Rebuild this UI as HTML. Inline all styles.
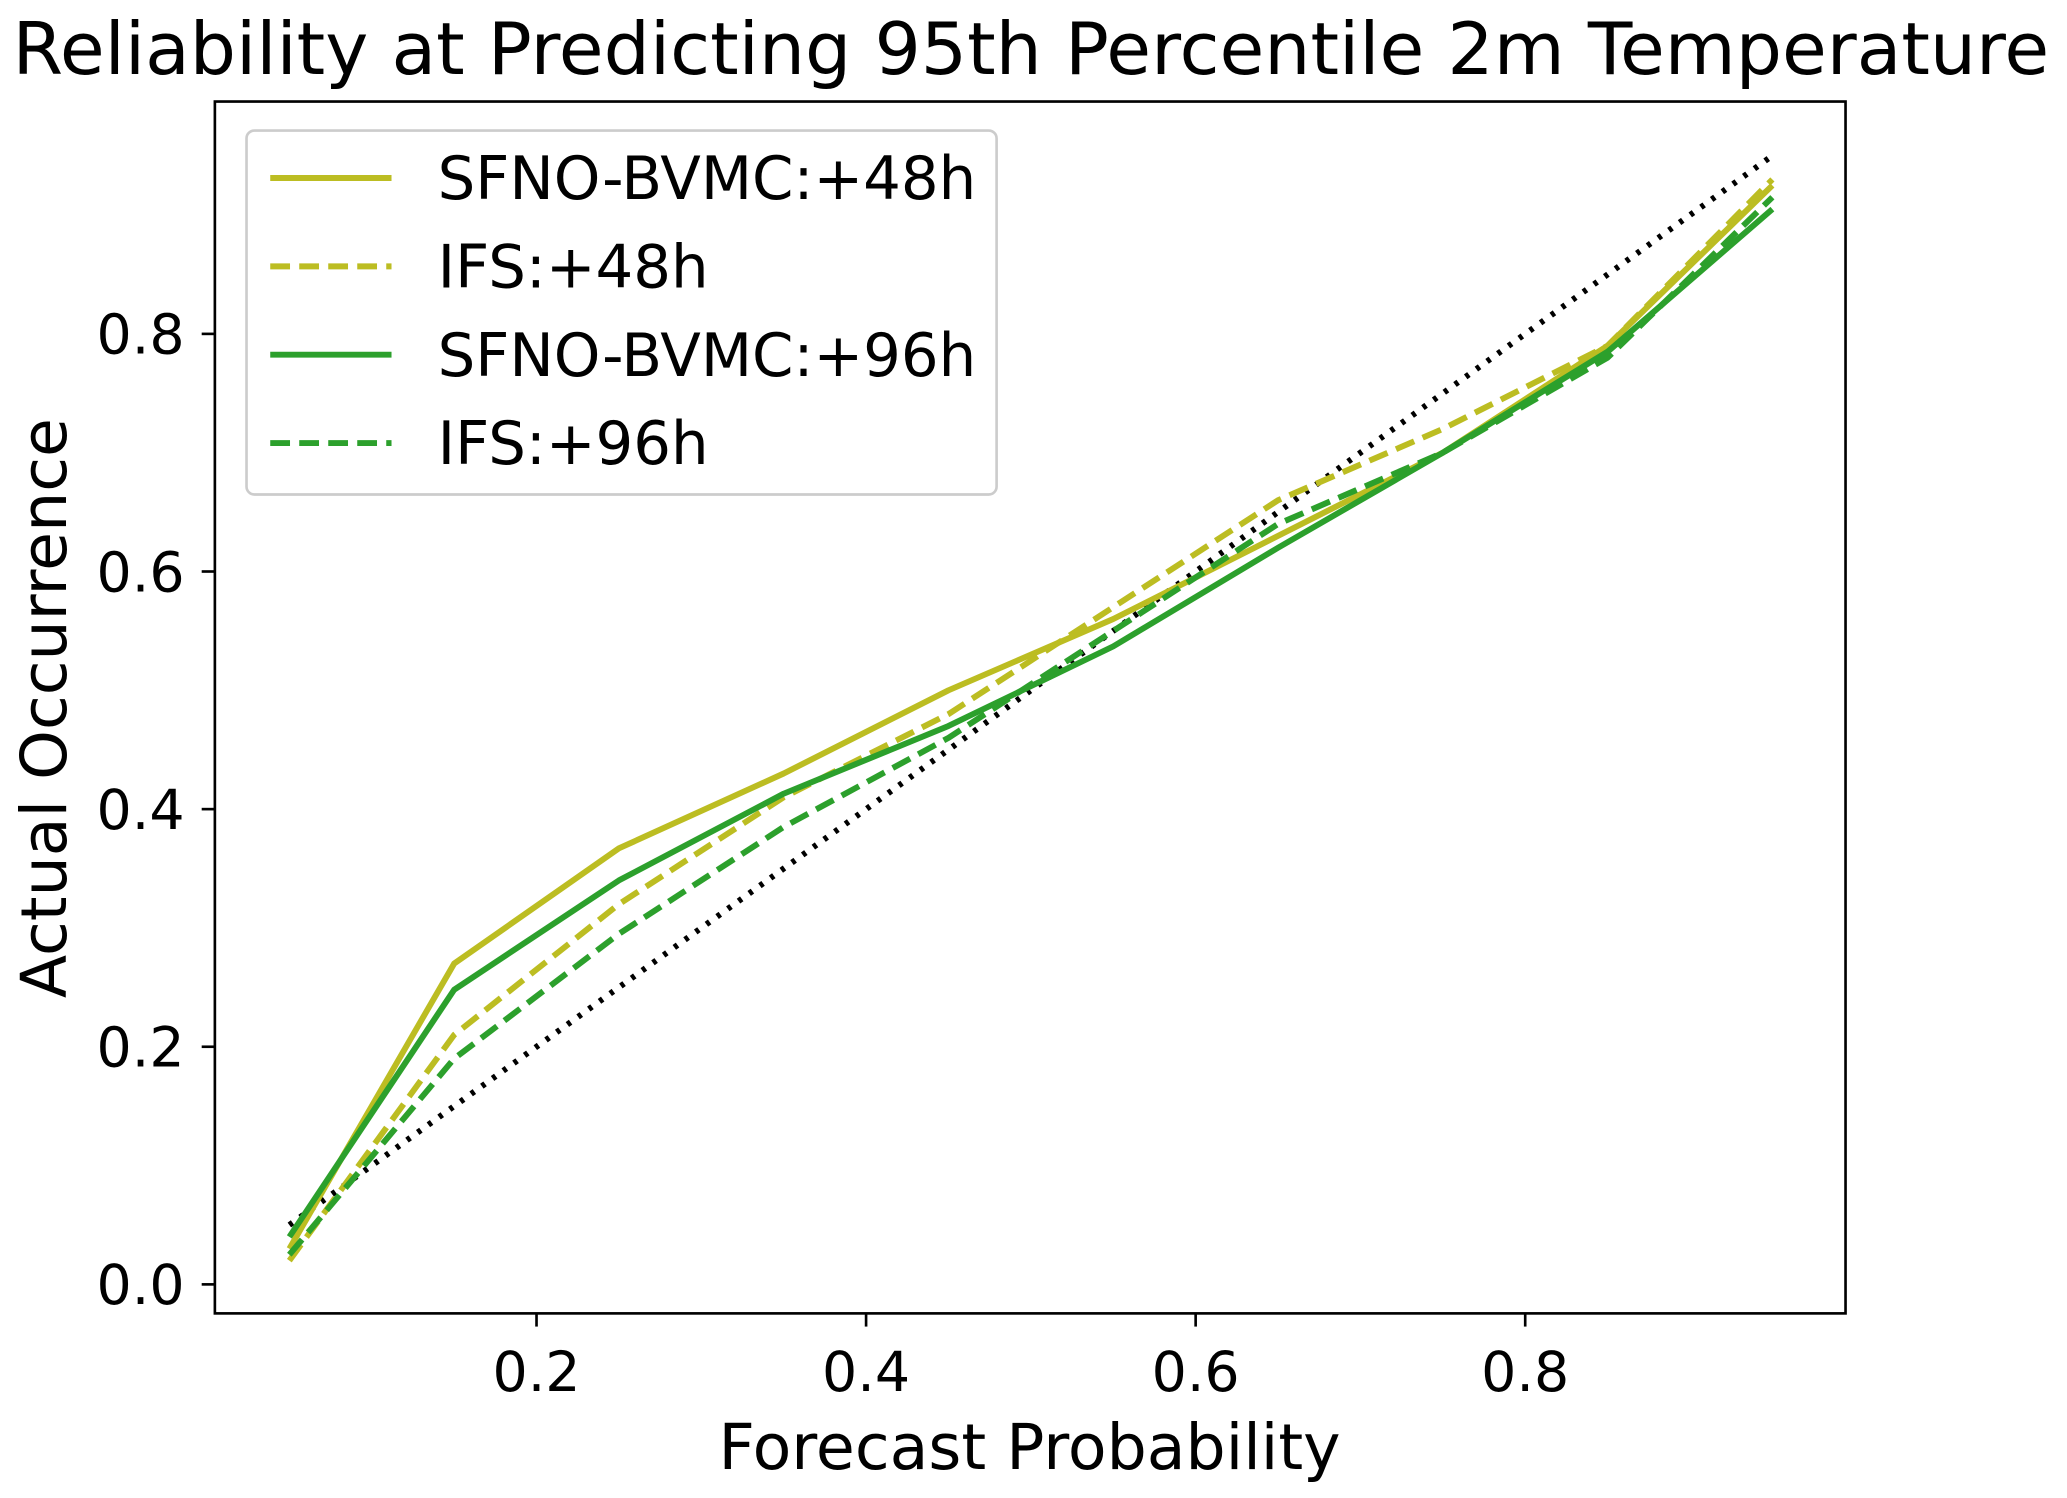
<!DOCTYPE html>
<html><head><meta charset="utf-8"><style>
html,body{margin:0;padding:0;background:#fff;}
svg{display:block;}
text{font-family:"DejaVu Sans","Liberation Sans",sans-serif;fill:#000;}
</style></head><body>
<svg id="chart" width="2067" height="1498" viewBox="0 0 1568 1136" preserveAspectRatio="none" xmlns="http://www.w3.org/2000/svg">
<rect x="0" y="0" width="1568" height="1136" fill="#fff"/>
<text x="782" y="56" font-size="55" text-anchor="middle" textLength="1545" lengthAdjust="spacingAndGlyphs">Reliability at Predicting 95th Percentile 2m Temperature</text>
<g id="plot"></g>
<text x="781" y="1114" font-size="48" text-anchor="middle">Forecast Probability</text>
<text x="0" y="0" font-size="48" text-anchor="middle" transform="translate(50,537) rotate(-90)">Actual Occurrence</text>
<g>
<rect x="187" y="99" width="569" height="276" rx="6" fill="#fff" stroke="#ccc" stroke-width="2"/>
<line x1="205" y1="135" x2="297" y2="135" stroke="#bcbd22" stroke-width="4.5"/>
<text x="332" y="151" font-size="45">SFNO-BVMC:+48h</text>
<line x1="205" y1="202" x2="297" y2="202" stroke="#bcbd22" stroke-width="4.5" stroke-dasharray="15,7"/>
<text x="332" y="218" font-size="45">IFS:+48h</text>
<line x1="205" y1="269" x2="297" y2="269" stroke="#2ca02c" stroke-width="4.5"/>
<text x="332" y="285" font-size="45">SFNO-BVMC:+96h</text>
<line x1="205" y1="336" x2="297" y2="336" stroke="#2ca02c" stroke-width="4.5" stroke-dasharray="15,7"/>
<text x="332" y="352" font-size="45">IFS:+96h</text>
</g>
</svg>
<script>
const xValues=[0.05,0.15,0.25,0.35,0.45,0.55,0.65,0.75,0.85,0.95];
const sfno48=[0.03,0.27,0.367,0.43,0.50,0.56,0.63,0.70,0.79,0.925];
const ifs48=[0.02,0.21,0.32,0.41,0.48,0.57,0.66,0.72,0.79,0.93];
const sfno96=[0.04,0.248,0.34,0.413,0.47,0.537,0.62,0.70,0.785,0.905];
const ifs96=[0.025,0.19,0.295,0.385,0.46,0.55,0.64,0.70,0.78,0.915];
const diagValues=[0.05,0.95];
const xTicks=[0.2,0.4,0.6,0.8];
const yTicks=[0.0,0.2,0.4,0.6,0.8];
const NS="http://www.w3.org/2000/svg";
function sx(v){return 157+v*1250;}
function sy(v){return 974-v*901;}
const g=document.getElementById('plot');
function mk(t,a){const e=document.createElementNS(NS,t);for(const k in a)e.setAttribute(k,a[k]);g.appendChild(e);return e;}
function line(xs,ys,color,dash,name){
  const p=mk('polyline',{points:xs.map((x,i)=>sx(x)+','+sy(ys[i])).join(' '),fill:'none',stroke:color,'stroke-width':4.5,'stroke-dasharray':dash,'stroke-linejoin':'round'});
  
  
}
line(diagValues,diagValues,'#000','3,7','perfect-reliability-line');
line(xValues,sfno48,'#bcbd22','none','line-sfno-48h');
line(xValues,ifs48,'#bcbd22','15,7','line-ifs-48h');
line(xValues,sfno96,'#2ca02c','none','line-sfno-96h');
line(xValues,ifs96,'#2ca02c','15,7','line-ifs-96h');
const fr=mk('rect',{x:163,y:77,width:1237,height:919,fill:'none',stroke:'#000','stroke-width':2});


xTicks.forEach(v=>{
  mk('line',{x1:sx(v),y1:996,x2:sx(v),y2:1006,stroke:'#000','stroke-width':2});
  const t=mk('text',{x:sx(v),y:1055,'font-size':42,'text-anchor':'middle'});
  t.textContent=v.toFixed(1);
  
  
});
yTicks.forEach(v=>{
  mk('line',{x1:153,y1:sy(v),x2:163,y2:sy(v),stroke:'#000','stroke-width':2});
  const t=mk('text',{x:140,y:sy(v)+15,'font-size':42,'text-anchor':'end'});
  t.textContent=v.toFixed(1);
  
  
});
</script>
</body></html>
